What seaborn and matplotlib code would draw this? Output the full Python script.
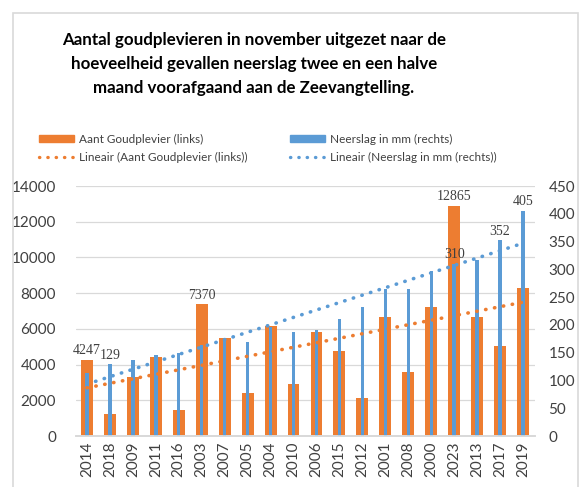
import matplotlib
matplotlib.use("Agg")
import matplotlib.pyplot as plt
from matplotlib.lines import Line2D
from matplotlib.patches import Patch, Rectangle
import seaborn as sns
import numpy as np

# data
jaren = ["2014", "2018", "2009", "2011", "2016", "2003", "2007", "2005", "2004", "2010",
         "2006", "2015", "2012", "2001", "2008", "2000", "2023", "2013", "2017", "2019"]
goudplevier = [4247, 1250, 3300, 4400, 1450, 7370, 5500, 2430, 6150, 2900,
               5800, 4760, 2110, 6650, 3570, 7200, 12865, 6650, 5020, 8300]
neerslag = [113, 129, 136, 145, 149, 163, 172, 170, 196, 187,
            190, 211, 232, 265, 265, 297, 310, 317, 352, 405]
# welke waarden een label krijgen
labels_goud = {"2014": 4247, "2003": 7370, "2023": 12865}
labels_neer = {"2018": 129, "2023": 310, "2017": 352, "2019": 405}

oranje = "#ED7D31"
blauw = "#5B9BD5"
stip = (0, (0.1, 2.4))

sns.set_theme(style="white")
plt.rcParams["font.family"] = ["Lato", "DejaVu Sans"]

fig = plt.figure(figsize=(5.86, 4.87), dpi=100)
ax = fig.add_axes([75.5 / 586, 51 / 487, 459 / 586, 250 / 487])
ax2 = ax.twinx()

# staven
sns.barplot(x=jaren, y=goudplevier, ax=ax, color=oranje, width=0.52, saturation=1,
            linewidth=0, edgecolor="none", zorder=2)
sns.barplot(x=jaren, y=neerslag, ax=ax2, color=blauw, width=0.15, saturation=1,
            linewidth=0, edgecolor="none", zorder=2)

# lineaire trendlijnen (bovenop alles, dus op ax2 getekend)
idx = np.arange(len(jaren))
fit_g = np.polyval(np.polyfit(idx, goudplevier, 1), idx)
fit_n = np.polyval(np.polyfit(idx, neerslag, 1), idx)
ax2.plot(idx, fit_g, transform=ax.transData, color=oranje, lw=2.6,
         linestyle=stip, dash_capstyle="round", zorder=5)
ax2.plot(idx, fit_n, color=blauw, lw=2.6,
         linestyle=stip, dash_capstyle="round", zorder=5)

# assen
ax.set_ylim(0, 14000)
ax2.set_ylim(0, 450)
ax.set_xlim(-0.5, len(jaren) - 0.5)
ax.set_yticks(range(0, 14001, 2000))
ax2.set_yticks(range(0, 451, 50))
ax.grid(axis="y", color="#D9D9D9", lw=0.9, zorder=0)
ax2.grid(False)
ax.set_axisbelow(True)
for a in (ax, ax2):
    for s in ("left", "right", "top"):
        a.spines[s].set_visible(False)
    a.spines["bottom"].set_color("#D9D9D9")
    a.tick_params(axis="both", length=0, labelsize=11, colors="#404040")
ax.tick_params(axis="y", pad=14)
ax2.tick_params(axis="y", pad=10)
ax.tick_params(axis="x", rotation=90, pad=4)
ax.set_xticks(idx)
ax.set_xticklabels(jaren)

# waardelabels
for j, v in labels_goud.items():
    ax.annotate(str(v), (jaren.index(j), v), xytext=(0, 2), textcoords="offset points",
                ha="center", va="bottom", fontsize=10, family="Liberation Serif", color="#404040")
for j, v in labels_neer.items():
    ax2.annotate(str(v), (jaren.index(j), v), xytext=(0, 2), textcoords="offset points",
                 ha="center", va="bottom", fontsize=10, family="Liberation Serif", color="#404040")

# titel
fig.text(254 / 586, 1 - 64 / 487,
         "Aantal goudplevieren in november uitgezet naar de\n"
         "hoeveelheid gevallen neerslag twee en een halve\n"
         "maand voorafgaand aan de Zeevangtelling.",
         ha="center", va="center", fontsize=12.2, fontweight="bold",
         linespacing=1.6, color="black")

# legenda
handles = [Patch(color=oranje),
           Line2D([], [], color=oranje, lw=2.4, linestyle=stip, dash_capstyle="round"),
           Patch(color=blauw),
           Line2D([], [], color=blauw, lw=2.4, linestyle=stip, dash_capstyle="round")]
namen = ["Aant Goudplevier (links)", "Lineair (Aant Goudplevier (links))",
         "Neerslag in mm (rechts)", "Lineair (Neerslag in mm (rechts))"]
fig.legend(handles, namen, ncol=2, loc="upper left", bbox_to_anchor=(28 / 586, 1 - 123 / 487),
           frameon=False, fontsize=8.5, handlelength=3.0, handleheight=0.45,
           handletextpad=0.4, columnspacing=3.6, labelspacing=0.6, labelcolor="#404040")

# kader van het grafiekgebied
fig.patches.append(Rectangle((13 / 586, -0.05), 565 / 586, 1.05 - 13 / 487,
                             transform=fig.transFigure, fill=False,
                             edgecolor="#D9D9D9", lw=1.2))

fig.savefig("out.png", dpi=100, facecolor="white")
